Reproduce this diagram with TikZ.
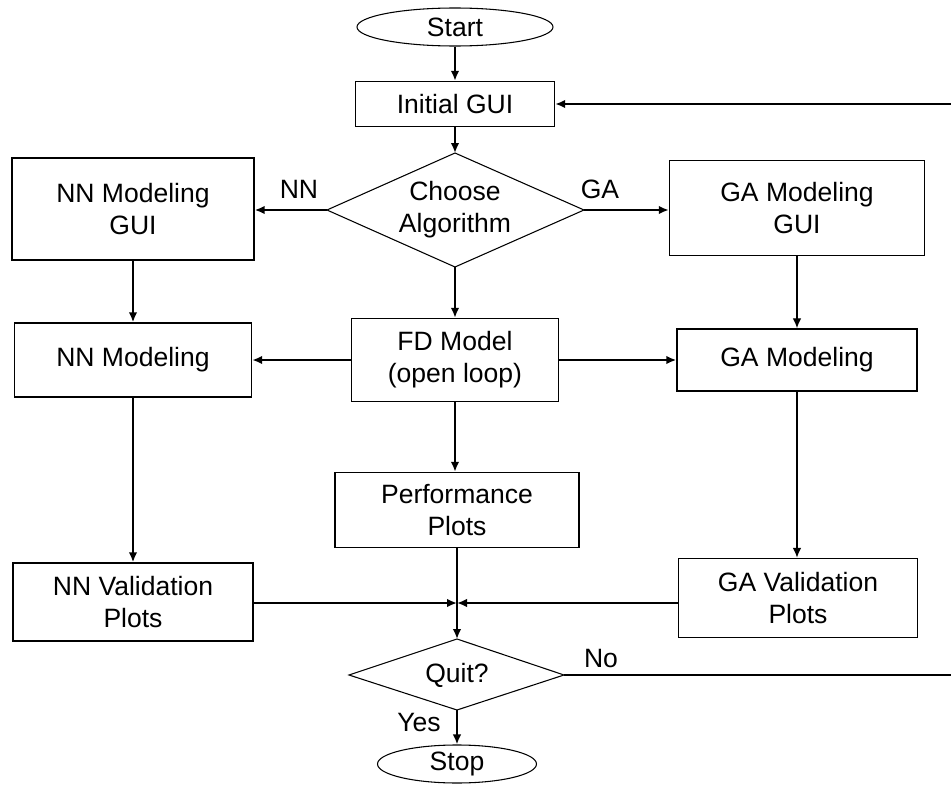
\documentclass[tikz,border=0pt]{standalone}
\usepackage{fontspec}
\setmainfont{Liberation Sans}
\usetikzlibrary{shapes.geometric,arrows.meta,calc}

\begin{document}
\begin{tikzpicture}[x=0.75pt,y=-0.75pt,
  every node/.style={font=\fontsize{19.9}{24}\selectfont},
  box/.style={draw,line width=1.1pt,rectangle,inner sep=0pt,align=center},
  term/.style={draw,line width=0.8pt,ellipse,inner sep=0pt},
  conn/.style={line width=1.8pt,-{Latex[length=7.5pt,width=6.5pt]}},
  thinconn/.style={line width=1pt,-{Latex[length=7.5pt,width=6.5pt]}},
  plainconn/.style={line width=1.8pt},
  decision/.style={line width=0.8pt},
  edgelabel/.style={inner sep=0pt}
]
\useasboundingbox (0,0) rectangle (951,785);
\clip (0,0) rectangle (951,785);

% terminals and process boxes
\node[term, minimum width=147pt, minimum height=28.5pt] (start) at (455,27) {Start};
\node[box, minimum width=149.25pt, minimum height=33.75pt] (init) at (455,104) {Initial GUI};
\node[box, minimum width=181.5pt, minimum height=76.5pt] (nngui) at (133,209) {NN Modeling\\GUI};
\node[box, minimum width=191.25pt, minimum height=71.25pt] (gagui) at (797,208) {GA Modeling\\GUI};
\node[box, minimum width=177.75pt, minimum height=55.5pt] (nnmod) at (133,360) {NN Modeling};
\node[box, minimum width=155.25pt, minimum height=62.25pt] (fd) at (455,360) {FD Model\\(open loop)};
\node[box, minimum width=180pt, minimum height=46.5pt] (gamod) at (797,360) {GA Modeling};
\node[box, minimum width=183pt, minimum height=56.25pt] (perf) at (457,510) {Performance\\Plots};
\node[box, minimum width=180pt, minimum height=58.5pt] (nnval) at (133,602) {NN Validation\\Plots};
\node[box, minimum width=179.25pt, minimum height=59.25pt] (gaval) at (798,598) {GA Validation\\Plots};
\node[term, minimum width=119.25pt, minimum height=28.5pt] (stop) at (457,764) {Stop};

% decision diamonds
\node[align=center] (choose) at (455,210) {Choose\\Algorithm};
\coordinate (chooseN) at (455,153);
\coordinate (chooseS) at (455,267);
\coordinate (chooseW) at (327,210);
\coordinate (chooseE) at (584,210);
\draw[decision] (chooseN) -- (chooseE) -- (chooseS) -- (chooseW) -- cycle;

\node (quit) at (457,675) {Quit?};
\coordinate (quitN) at (457,639);
\coordinate (quitS) at (457,710);
\coordinate (quitW) at (349,675);
\coordinate (quitE) at (564,675);
\draw[decision] (quitN) -- (quitE) -- (quitS) -- (quitW) -- cycle;

% connectors
\coordinate (join) at (457,603);
\coordinate (loopback) at (965,675);

\draw[conn] (start.south) -- (init.north);
\draw[conn] (init.south) -- (chooseN);
\draw[conn] (chooseW) -- (chooseW -| nngui.east);
\draw[conn] (chooseE) -- (chooseE -| gagui.west);
\draw[conn] (chooseS) -- (fd.north);
\draw[conn] (nngui.south) -- (nnmod.north);
\draw[thinconn] (gagui.south) -- (gamod.north);
\draw[conn] (fd.west) -- (nnmod.east);
\draw[conn] (fd.east) -- (gamod.west);
\draw[conn] (fd.south) -- (fd.south |- perf.north);
\draw[conn] (nnmod.south) -- (nnval.north);
\draw[thinconn] (gamod.south) -- (gamod.south |- gaval.north);
\draw[plainconn] (perf.south) -- (join);
\draw[conn] (nnval.east |- join) -- (join);
\draw[conn] (gaval.west |- join) -- (join);
\draw[conn] (join) -- (quitN);
\draw[conn] (quitS) -- (stop.north);
\draw[conn] (quitE) -- (loopback) |- (init.east);

% branch labels
\node[edgelabel] at (299,189) {NN};
\node[edgelabel] at (600,189) {GA};
\node[edgelabel] at (601,658) {No};
\node[edgelabel] at (419,722) {Yes};
\end{tikzpicture}
\end{document}
